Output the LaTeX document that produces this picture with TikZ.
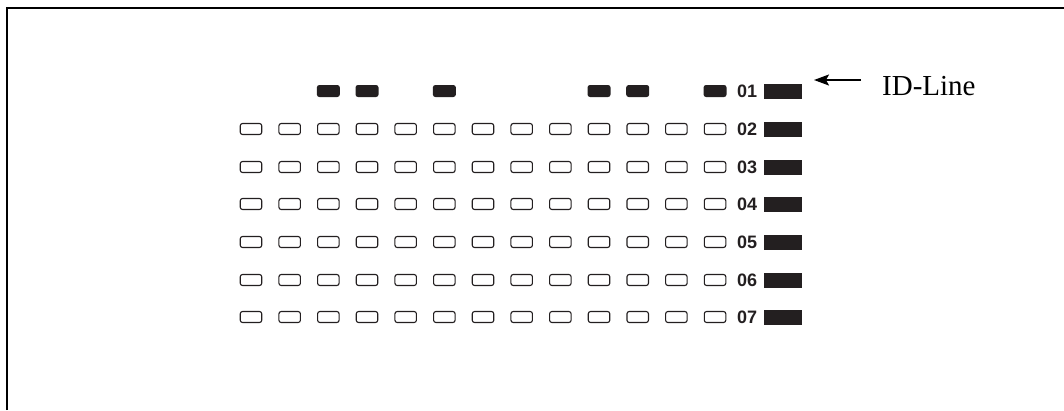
\documentclass[tikz,border=0pt]{standalone}
\usepackage{fontspec}
\setmainfont{Liberation Serif}
\newfontfamily\labfont{Liberation Sans}
\usetikzlibrary{arrows.meta}
\definecolor{ink}{HTML}{231F20}
\begin{document}
\begin{tikzpicture}[x=1pt,y=-1pt,
  cell/.style={draw=ink, line width=1.1pt, rounded corners=2.3pt, minimum width=21.5pt, minimum height=11pt, inner sep=0pt, fill=white},
  mark cell/.style={fill=ink, rounded corners=2.5pt, minimum width=23pt, minimum height=12pt, inner sep=0pt},
  rowlab/.style={font=\labfont\bfseries\fontsize{18}{18}\selectfont, text=ink, inner sep=0pt},
  rowbar/.style={fill=ink, minimum width=38pt, minimum height=15pt, inner sep=0pt},
  idtext/.style={font=\fontsize{29}{29}\selectfont, text=black, inner sep=0pt, anchor=west}]
\useasboundingbox (0,0) rectangle (1064,410);
\draw[line width=2pt] (7,410) -- (7,8) -- (1064,8);
% row 01 marks
\foreach \c in {2,3,5,9,10,12}{
  \node[mark cell] (m\c) at ({251+38.67*\c},91) {};
}
% grid rows 02-07
\foreach \r/\y in {2/129,3/167,4/204,5/242,6/280,7/317}{
  \foreach \c in {0,...,12}{
    \node[cell] (c\r-\c) at ({251+38.67*\c},\y) {};
  }
}
% labels and bars
\foreach \r/\y in {1/91,2/129,3/167,4/204,5/242,6/280,7/317}{
  \node[rowlab] (l\r) at (747,\y) {0\r};
  \node[rowbar] (b\r) at (783,\y) {};
}
\node[idtext] (id) at (882,86) {ID-Line};
\coordinate (atail) at (861,80);
\coordinate (atip) at (814,80);
\draw[line width=1.5pt, -{Stealth[length=15pt,width=11pt,inset=3pt]}] (atail) -- (atip);
\end{tikzpicture}
\end{document}
